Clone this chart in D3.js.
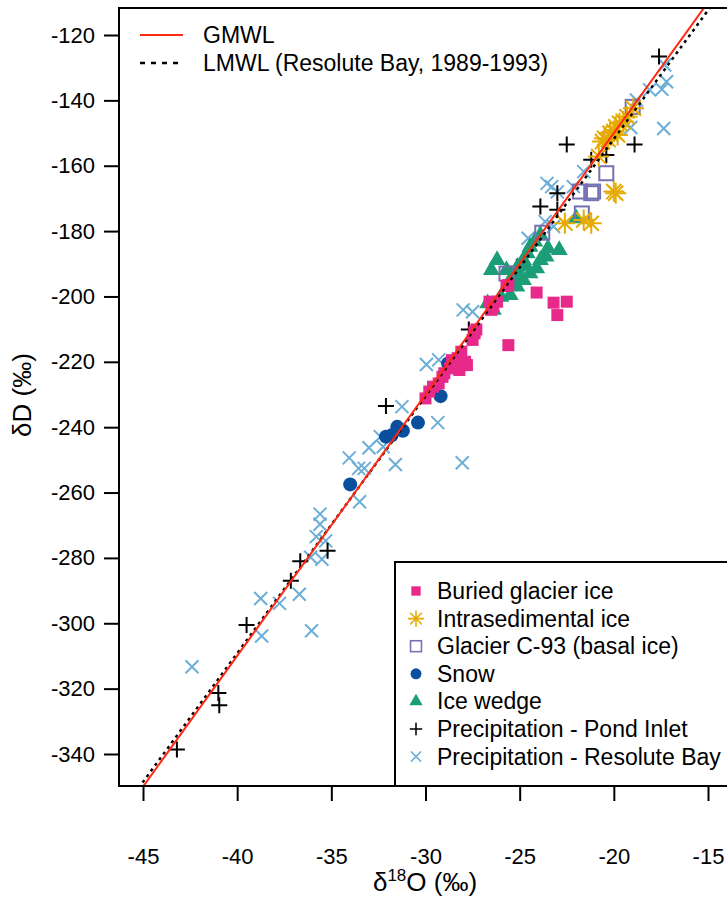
<!DOCTYPE html>
<html>
<head>
<meta charset="utf-8">
<script src="https://cdn.jsdelivr.net/npm/d3@7"></script>
<style>
  body { margin: 0; background: #fff; }
  text { font-family: "Liberation Sans", Arial, sans-serif; fill: #000; }
</style>
</head>
<body>
<script>
// isotope data, [d18O, dD] per sample
const buriedIce = [[-30.0,-231.2],[-29.8,-229.1],[-29.6,-227.6],[-29.3,-226.6],[-29.1,-224.6],[-29.0,-223.5],
  [-28.7,-222.0],[-28.4,-221.0],[-28.3,-218.9],[-28.1,-216.9],[-27.9,-220.0],[-27.8,-221.0],[-28.6,-219.5],
  [-28.2,-222.5],[-27.5,-213.3],[-27.4,-211.3],[-27.3,-210.1],[-27.4,-210.8],[-25.6,-214.9],[-26.5,-204.1],
  [-26.2,-201.6],[-26.4,-203.1],[-26.6,-201.6],[-25.7,-196.8],[-25.6,-196.5],[-24.1,-198.8],[-23.2,-201.9],
  [-22.5,-201.6],[-23.0,-205.7]];
const intrasedIce = [[-18.96,-142.4],[-19.3,-145.0],[-19.7,-147.0],[-19.9,-148.1],[-20.2,-150.1],[-20.5,-151.6],
  [-20.6,-152.6],[-19.8,-150.6],[-20.0,-149.5],[-19.5,-146.5],[-20.3,-152.0],[-20.8,-157.2],[-19.9,-168.4],
  [-20.0,-167.9],[-22.6,-177.6],[-21.6,-176.6],[-21.2,-177.6]];
const glacierC93 = [[-25.7,-193.0],[-23.8,-180.5],[-21.7,-174.6],[-21.8,-167.9],[-21.2,-168.4],[-21.1,-167.9],
  [-20.4,-162.3],[-19.0,-142.0]];
const snow = [[-34.0,-257.5],[-32.1,-242.9],[-31.8,-242.5],[-31.5,-239.9],[-31.2,-241.1],[-30.4,-238.6],
  [-29.2,-230.5],[-28.8,-220.5]];
const iceWedge = [[-26.2,-188.9],[-26.5,-191.9],[-25.7,-191.9],[-25.4,-194.0],[-25.1,-190.9],[-24.8,-188.9],
  [-24.6,-186.8],[-24.45,-184.8],[-24.2,-183.2],[-23.9,-181.2],[-23.5,-185.3],[-22.9,-185.8],[-23.6,-187.8],
  [-23.9,-188.9],[-24.1,-191.4],[-24.45,-192.9],[-24.8,-195.0],[-25.15,-197.0],[-25.5,-199.6],[-26.0,-200.1],
  [-26.4,-204.1],[-26.7,-202.1],[-25.0,-193.4],[-22.0,-176.1],[-24.7,-190.5],[-25.3,-195.5]];
const pondInlet = [[-43.2,-338.6],[-41.0,-321.3],[-40.95,-325.1],[-39.5,-300.5],[-37.15,-287.0],[-35.2,-277.8],
  [-36.65,-281.0],[-32.1,-233.5],[-27.7,-210.1],[-25.15,-190.9],[-23.9,-172.5],[-23.0,-173.5],[-23.0,-168.4],
  [-22.5,-153.5],[-18.9,-153.5],[-21.2,-158.2],[-20.4,-156.7],[-17.6,-126.6]];
const resoluteBay = [[-42.4,-313.3],[-38.75,-292.4],[-37.75,-293.9],[-36.7,-291.1],[-38.7,-303.9],[-36.05,-302.3],
  [-34.05,-249.4],[-33.55,-252.6],[-33.25,-252.6],[-33.5,-262.8],[-35.6,-266.6],[-35.6,-269.7],[-35.8,-273.5],
  [-35.3,-274.8],[-36.1,-279.8],[-35.5,-280.4],[-33.0,-246.3],[-32.25,-246.0],[-32.4,-242.9],[-31.6,-251.4],
  [-31.25,-233.7],[-29.35,-238.6],[-28.05,-250.9],[-29.95,-220.8],[-29.3,-219.4],[-28.0,-204.1],[-27.5,-204.7],
  [-24.55,-182.2],[-23.65,-177.1],[-23.2,-178.6],[-23.55,-165.4],[-23.3,-166.4],[-23.0,-168.0],[-22.15,-166.4],
  [-21.6,-161.8],[-18.8,-139.9],[-18.1,-136.8],[-17.45,-136.6],[-17.2,-134.3],[-17.3,-129.2],[-17.35,-148.6],
  [-19.1,-148.3]];

// water lines: [slope, intercept]
const gmwl = [8, 10];
const lmwl = [7.87, 5.6];

const xTicks = [-45, -40, -35, -30, -25, -20, -15];
const yTicks = [-120, -140, -160, -180, -200, -220, -240, -260, -280, -300, -320, -340];

const W = 727, H = 897;
const box = { left: 119, top: 8, right: 740, bottom: 786 };

const x = d3.scaleLinear().domain([-45, -15]).range([143, 708]);
const y = d3.scaleLinear().domain([-120, -340]).range([35, 754]);

const svg = d3.select('body').append('svg')
  .attr('width', W).attr('height', H);

svg.append('clipPath').attr('id', 'clip')
  .append('rect')
  .attr('x', box.left).attr('y', box.top)
  .attr('width', box.right - box.left).attr('height', box.bottom - box.top);

// marker shapes
function crossPath(s) { return `M${-s},0H${s}M0,${-s}V${s}`; }
function xPath(s) { return `M${-s},${-s}L${s},${s}M${-s},${s}L${s},${-s}`; }
function starPath(s) { return crossPath(s) + xPath(s * 0.72); }

const series = [
  { name: 'Precipitation - Resolute Bay', data: resoluteBay, color: '#6baed6', kind: 'x' },
  { name: 'Precipitation - Pond Inlet', data: pondInlet, color: '#000', kind: 'plus' },
  { name: 'Ice wedge', data: iceWedge, color: '#1b9e77', kind: 'tri' },
  { name: 'Snow', data: snow, color: '#0a4f9e', kind: 'circle' },
  { name: 'Glacier C-93 (basal ice)', data: glacierC93, color: '#7570b3', kind: 'osq' },
  { name: 'Buried glacier ice', data: buriedIce, color: '#e7298a', kind: 'sq' },
  { name: 'Intrasedimental ice', data: intrasedIce, color: '#e6ab02', kind: 'star' }
];

function drawMarker(g, kind, color) {
  if (kind === 'sq') {
    g.append('path').attr('d', d3.symbol(d3.symbolSquare, 144)()).attr('fill', color);
  } else if (kind === 'osq') {
    g.append('rect').attr('x', -7).attr('y', -7).attr('width', 14).attr('height', 14)
      .attr('fill', 'none').attr('stroke', color).attr('stroke-width', 2);
  } else if (kind === 'circle') {
    g.append('circle').attr('r', 7).attr('fill', color);
  } else if (kind === 'tri') {
    g.append('path').attr('d', d3.symbol(d3.symbolTriangle, 125)()).attr('fill', color);
  } else if (kind === 'plus') {
    g.append('path').attr('d', crossPath(8)).attr('stroke', color).attr('stroke-width', 2).attr('fill', 'none');
  } else if (kind === 'x') {
    g.append('path').attr('d', xPath(6.5)).attr('stroke', color).attr('stroke-width', 2).attr('fill', 'none');
  } else if (kind === 'star') {
    g.append('path').attr('d', starPath(10.5)).attr('stroke', color).attr('stroke-width', 2).attr('fill', 'none');
  }
}

const plot = svg.append('g').attr('clip-path', 'url(#clip)');

series.forEach(s => {
  plot.append('g').selectAll('g')
    .data(s.data)
    .enter()
      .append('g')
      .attr('transform', d => `translate(${x(d[0])},${y(d[1])})`)
      .each(function() { drawMarker(d3.select(this), s.kind, s.color); });
});

// meteoric water lines
const xEnds = [-47, -13];
function linePts(p) { return xEnds.map(v => [x(v), y(p[0] * v + p[1])]); }
plot.append('path')
  .attr('d', d3.line()(linePts(lmwl)))
  .attr('stroke', '#000').attr('stroke-width', 2.5).attr('stroke-dasharray', '3,4').attr('fill', 'none');
plot.append('path')
  .attr('d', d3.line()(linePts(gmwl)))
  .attr('stroke', '#ff2a14').attr('stroke-width', 2).attr('fill', 'none');

// axes
const xAxis = d3.axisBottom(x).tickValues(xTicks).tickSize(15).tickPadding(47).tickFormat(d => String(d));
const yAxis = d3.axisLeft(y).tickValues(yTicks).tickSize(15).tickPadding(9).tickFormat(d => String(d));

const gx = svg.append('g').attr('transform', `translate(0,${box.bottom})`).call(xAxis);
const gy = svg.append('g').attr('transform', `translate(${box.left},0)`).call(yAxis);
[gx, gy].forEach(g => {
  g.select('.domain').remove();
  g.selectAll('line').attr('stroke', '#000').attr('stroke-width', 2);
  g.selectAll('text').attr('font-size', 22).attr('fill', '#000')
    .attr('font-family', '"Liberation Sans", Arial, sans-serif');
});

// frame
svg.append('rect')
  .attr('x', box.left).attr('y', box.top)
  .attr('width', box.right - box.left).attr('height', box.bottom - box.top)
  .attr('fill', 'none').attr('stroke', '#000').attr('stroke-width', 2);

// axis titles
const xt = svg.append('text')
  .attr('x', 425).attr('y', 891)
  .attr('text-anchor', 'middle').attr('font-size', 26);
xt.append('tspan').text('δ');
xt.append('tspan').attr('dy', -10).attr('font-size', 17).text('18');
xt.append('tspan').attr('dy', 10).text('O (‰)');

svg.append('text')
  .attr('transform', 'translate(31,395) rotate(-90)')
  .attr('text-anchor', 'middle').attr('font-size', 26)
  .text('δD (‰)');

// line legend
const lineLegend = svg.append('g');
lineLegend.append('line').attr('x1', 140).attr('x2', 183).attr('y1', 35).attr('y2', 35)
  .attr('stroke', '#ff2a14').attr('stroke-width', 2);
lineLegend.append('line').attr('x1', 140).attr('x2', 183).attr('y1', 63).attr('y2', 63)
  .attr('stroke', '#000').attr('stroke-width', 2.5).attr('stroke-dasharray', '5,6');
lineLegend.append('text').attr('x', 203).attr('y', 35).attr('dy', '0.35em').attr('font-size', 23).text('GMWL');
lineLegend.append('text').attr('x', 203).attr('y', 63).attr('dy', '0.35em').attr('font-size', 23)
  .text('LMWL (Resolute Bay, 1989-1993)');

// symbol legend
const legendOrder = ['Buried glacier ice', 'Intrasedimental ice', 'Glacier C-93 (basal ice)', 'Snow',
  'Ice wedge', 'Precipitation - Pond Inlet', 'Precipitation - Resolute Bay'];
svg.append('rect')
  .attr('x', 395).attr('y', 562).attr('width', 350).attr('height', box.bottom - 562)
  .attr('fill', '#fff').attr('stroke', '#000').attr('stroke-width', 2);
const leg = svg.append('g');
legendOrder.forEach((name, i) => {
  const s = series.find(d => d.name === name);
  const row = leg.append('g').attr('transform', `translate(416,${591 + i * 27.6})`);
  const m = row.append('g').attr('transform', 'scale(0.78)');
  drawMarker(m, s.kind, s.color);
  row.append('text').attr('x', 21).attr('dy', '0.35em').attr('font-size', 23).text(name);
});
</script>
</body>
</html>
